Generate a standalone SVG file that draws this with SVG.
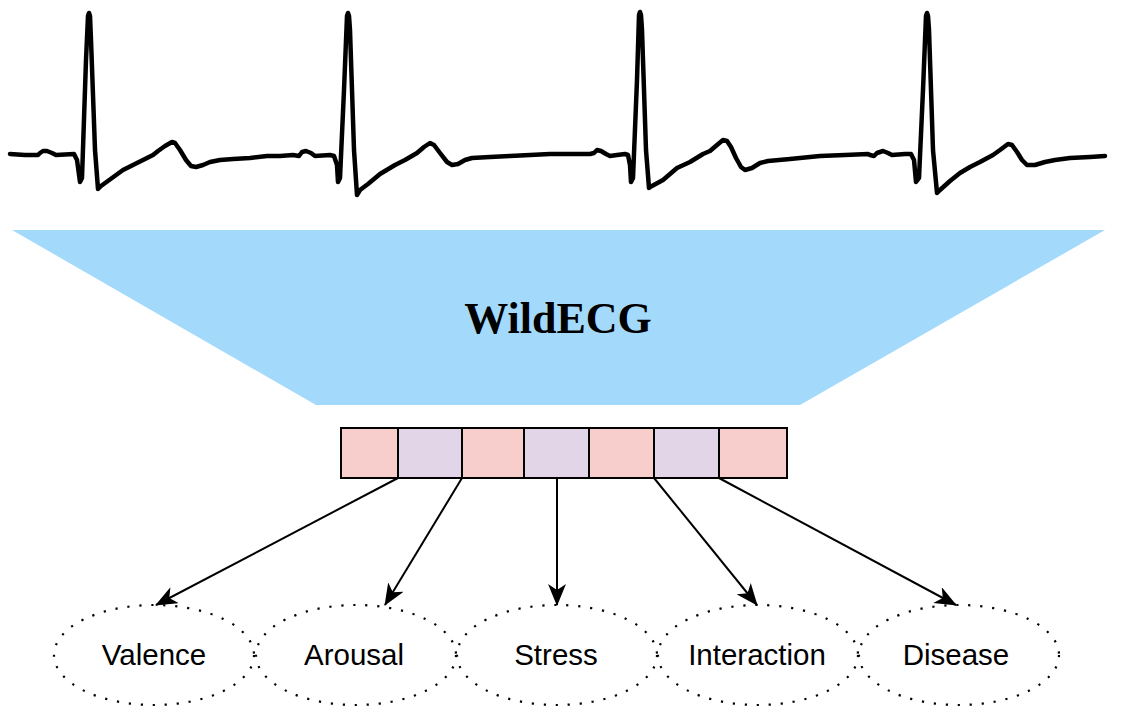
<svg xmlns="http://www.w3.org/2000/svg" width="1121" height="714" viewBox="0 0 1121 714">
  <style>
    .ecg { fill: none; stroke: #000; stroke-width: 4.5; stroke-linejoin: round; stroke-linecap: round; }
    .cell { stroke: #000; stroke-width: 2; }
    .pink { fill: #f8cecc; }
    .lav { fill: #e1d5e7; }
    .task { fill: none; stroke: #000; stroke-width: 2.2; stroke-dasharray: 2.2 9.8; }
    .lbl { font-family: "Liberation Sans", Arial, sans-serif; font-size: 29.5px; fill: #000; text-anchor: middle; }
    .title { font-family: "Liberation Serif", "Times New Roman", serif; font-size: 44px; font-weight: bold; fill: #000; text-anchor: middle; }
    .conn { stroke: #000; stroke-width: 2; fill: none; marker-end: url(#arr); }
  </style>
  <defs>
    <marker id="arr" markerUnits="userSpaceOnUse" viewBox="0 0 22 18" markerWidth="22" markerHeight="18" refX="21" refY="9" orient="auto">
      <path d="M0,0 L22,9 L0,18 L6,9 Z" fill="#000"/>
    </marker>
  </defs>
  <rect width="1121" height="714" fill="#fff"/>

  <g id="ecg-signal">
    <path class="ecg" d="M10,154 L25,155 L38,155 L40,153 L43,151 L47,151 L52,153 L56,155 L74,154 L77,160 L80,182 L82,178 L86,60 L88,16 L89,13 L90,16 L91,40 L95,150 L98,189 L101,186 L112,178 L123,170 L135,164 L147,158 L153,155 L158,151 L165,146 L172,142 L175,143 L180,150 L186,160 L191,166 L196,167 L203,165 L210,162 L220,160 L233,159 L250,158 L267,156 L280,156 L293,155 L299,156 L302,152 L306,151 L311,153 L315,156 L330,155 L334,156 L337,165 L338,182 L340,178 L344,90 L347,16 L348,13 L349,16 L350,30 L354,150 L357,195 L360,190 L368,184 L380,174 L395,165 L405,160 L417,153 L424,147 L430,143 L434,145 L440,153 L447,162 L452,165 L458,164 L465,160 L472,158 L490,157 L510,156 L530,155 L550,154 L570,154 L590,154 L594,153 L597,150 L601,151 L606,154 L610,156 L617,155 L625,154 L628,155 L630,165 L631,182 L633,178 L637,80 L639,15 L640,12 L641,15 L642,30 L646,150 L649,188 L652,186 L663,180 L677,168 L690,162 L703,154 L710,151 L717,145 L723,140 L727,141 L731,147 L736,158 L741,167 L745,170 L752,168 L760,163 L768,161 L790,159 L820,156 L845,155 L868,154 L870,155 L874,156 L877,153 L883,151 L888,153 L892,155 L905,154 L911,154 L914,160 L916,182 L919,178 L923,90 L926,16 L927,13 L928,16 L929,30 L933,150 L937,193 L940,190 L950,181 L960,173 L970,167 L980,162 L993,155 L1000,150 L1008,144 L1012,145 L1017,152 L1022,160 L1027,165 L1035,165 L1045,162 L1055,160 L1070,158 L1090,157 L1105,156"/>
  </g>

  <g id="wildecg-model">
    <polygon points="12,230 1105,230 800,405 316,405" fill="#a3dafc"/>
    <text class="title" x="558" y="333">WildECG</text>
  </g>

  <g id="embedding">
    <rect class="cell pink" x="341" y="428" width="57" height="50"/>
    <rect class="cell lav" x="398" y="428" width="64" height="50"/>
    <rect class="cell pink" x="462" y="428" width="62" height="50"/>
    <rect class="cell lav" x="524" y="428" width="65" height="50"/>
    <rect class="cell pink" x="589" y="428" width="65" height="50"/>
    <rect class="cell lav" x="654" y="428" width="65" height="50"/>
    <rect class="cell pink" x="719" y="428" width="68" height="50"/>
  </g>

  <g id="connectors">
    <line class="conn" x1="398" y1="478" x2="156" y2="605"/>
    <line class="conn" x1="462" y1="478" x2="385" y2="605"/>
    <line class="conn" x1="557" y1="478" x2="557" y2="605"/>
    <line class="conn" x1="654" y1="478" x2="757" y2="605"/>
    <line class="conn" x1="719" y1="478" x2="956" y2="605"/>
  </g>

  <g id="task-valence">
    <ellipse class="task" cx="154" cy="655" rx="100" ry="50"/>
    <text class="lbl" x="154" y="665">Valence</text>
  </g>
  <g id="task-arousal">
    <ellipse class="task" cx="356" cy="655" rx="100" ry="50"/>
    <text class="lbl" x="354" y="665">Arousal</text>
  </g>
  <g id="task-stress">
    <ellipse class="task" cx="557" cy="655" rx="100" ry="50"/>
    <text class="lbl" x="556" y="665">Stress</text>
  </g>
  <g id="task-interaction">
    <ellipse class="task" cx="758" cy="655" rx="100" ry="50"/>
    <text class="lbl" x="757" y="665">Interaction</text>
  </g>
  <g id="task-disease">
    <ellipse class="task" cx="959" cy="655" rx="100" ry="50"/>
    <text class="lbl" x="956" y="665">Disease</text>
  </g>
</svg>
